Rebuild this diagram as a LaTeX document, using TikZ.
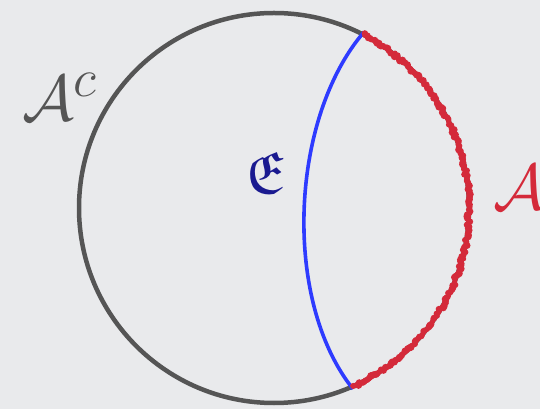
\documentclass[tikz,border=0pt]{standalone}
\usepackage{amsmath,amssymb}
\usepackage{xcolor}
\usepackage{tikz}
\definecolor{bgray}{HTML}{E9EAEC}
\definecolor{rim}{HTML}{555555}
\definecolor{cutblue}{HTML}{2E3BFF}
\definecolor{edgered}{HTML}{D42A3A}
\definecolor{frakblue}{HTML}{1A1A90}

\begin{document}
\begin{tikzpicture}[x=1pt,y=1pt,
  biglabel/.style={font=\Huge,scale=2.6}]
\fill[bgray] (0,0) rectangle (540,409);
\useasboundingbox (0,0) rectangle (540,409);
\coordinate (o) at (274,201);
\draw[rim,line width=4.5pt] (o) circle (195);
\draw[cutblue,line width=3.6pt] (364,377) .. controls (290,291) and (282,109) .. (353,20);
% blotchy red rim
\pgfmathsetseed{7}
\draw[edgered,line width=4.2pt] (o) ++(62.8:195) arc[start angle=62.8,end angle=-66.2,radius=195];
\foreach \t in {-66,-65.5,...,62.6}{
  \pgfmathsetmacro{\rr}{195+1.8*rand}
  \pgfmathsetmacro{\dd}{2.9+0.8*rand}
  \fill[edgered] (o) ++(\t:\rr) circle (\dd);
}
\node[rim,biglabel] (ac) at (60,312) {$\mathcal{A}^c$};
\node[frakblue,font=\Huge,scale=2.4] (e) at (265,236) {$\mathfrak{E}$};
\node[edgered,biglabel,anchor=west] (a) at (484,222) {$\mathcal{A}$};
\end{tikzpicture}
\end{document}
